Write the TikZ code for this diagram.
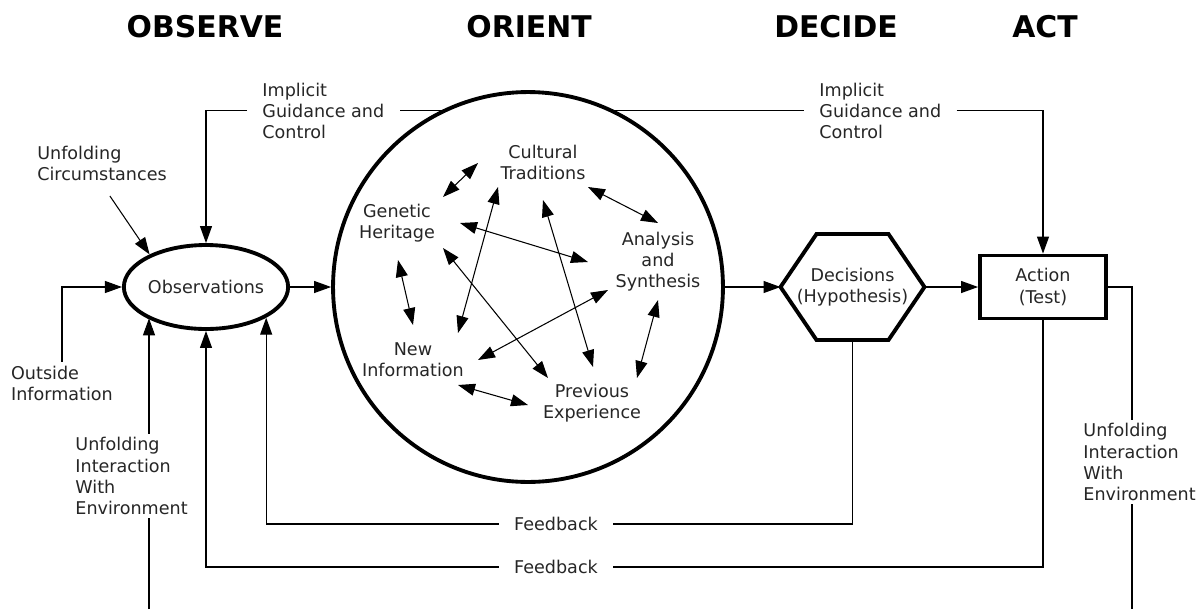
\documentclass[tikz,border=0pt]{standalone}
\usepackage{fontspec}
\setmainfont{DejaVu Sans}
\usetikzlibrary{arrows.meta,shapes.geometric}

\begin{document}
\begin{tikzpicture}[x=0.02cm, y=-0.02cm, line width=0.6pt,
		>={Triangle[length=0.34cm,width=0.24cm]},
		thick line/.style={line width=2.2pt},
		phase/.style={font=\fontsize{17}{20}\selectfont\bfseries},
		main/.style={thick line, align=center, inner sep=0pt, text=black!85, font=\fontsize{10}{12}\selectfont},
		idea/.style={align=center, inner sep=0pt, text=black!85, font=\fontsize{10}{12}\selectfont},
		lbl/.style={align=left, inner xsep=8.5pt, inner ysep=2pt, text=black!85, font=\fontsize{10}{12}\selectfont}]
		\useasboundingbox (0,0) rectangle (1204,609);

		\node[phase] (obsT) at (205,27) {OBSERVE};
		\node[phase] (oriT) at (529,27) {ORIENT};
		\node[phase] (decT) at (836,27) {DECIDE};
		\node[phase] (actT) at (1045,27) {ACT};

		\node[main, draw, ellipse, minimum width=3.16cm, minimum height=1.68cm] (obs) at (206,287) {Observations};
		\node[main, draw, circle, minimum size=7.8cm] (orient) at (528,287) {};
		\node[main, outer sep=0pt, minimum width=2.88cm, minimum height=2.12cm] (dec) at (852.5,287) {Decisions\\(Hypothesis)};
		\draw[thick line, line join=miter] (dec.west) -- ([shift={(36,0)}]dec.north west) -- ([shift={(-36,0)}]dec.north east) -- (dec.east) -- ([shift={(-36,0)}]dec.south east) -- ([shift={(36,0)}]dec.south west) -- cycle;
		\node[main, draw, minimum width=2.52cm, minimum height=1.26cm] (act) at (1043,287) {Action\\(Test)};

		\node[idea] (cult) at (543,162) {Cultural\\Traditions};
		\node[idea] (gen) at (397,223) {Genetic\\Heritage};
		\node[idea] (synth) at (658,262) {Analysis\\and\\Synthesis};
		\node[idea] (new) at (413,360) {New\\Information};
		\node[idea] (prev) at (592,403) {Previous\\Experience};

		\draw[<->] ([shift={(46,-26)}]gen.center) -- ([shift={(-65,1)}]cult.center);
		\draw[<->] ([shift={(45,25)}]cult.center) -- ([shift={(0,-39)}]synth.center);
		\draw[<->] ([shift={(63,0)}]gen.center) -- ([shift={(-70,0)}]synth.center);
		\draw[<->] ([shift={(-45,25)}]cult.center) -- ([shift={(45,-27)}]new.center);
		\draw[<->] ([shift={(0,38)}]cult.center) -- ([shift={(1,-36)}]prev.center);
		\draw[<->] ([shift={(1,37)}]gen.center) -- ([shift={(0,-35)}]new.center);
		\draw[<->] ([shift={(46,25)}]gen.center) -- ([shift={(-44,-25)}]prev.center);
		\draw[<->] ([shift={(-50,28)}]synth.center) -- ([shift={(65,0)}]new.center);
		\draw[<->] ([shift={(0,38)}]synth.center) -- ([shift={(45,-25)}]prev.center);
		\draw[<->] ([shift={(45,25)}]new.center) -- ([shift={(-64,2)}]prev.center);

		\draw[->] (obs.east) -- (orient.west);
		\draw[->] (orient.east) -- (dec.west);
		\draw[->] (dec.east) -- (act.west);

		\node[lbl, anchor=west] (implL) at (247,111) {Implicit\\Guidance and\\Control};
		\draw (orient.116) -- (orient.116 -| implL.east);
		\draw[->] (implL.west |- orient.116) -| (obs.north);
		\node[lbl, anchor=west] (implR) at (804,111) {Implicit\\Guidance and\\Control};
		\draw (orient.64) -- (orient.64 -| implR.west);
		\draw[->] (implR.east |- orient.64) -| (act.north);

		\node[lbl] (circ) at (102,163) {Unfolding\\Circumstances};
		\draw[->, shorten <=8pt] (circ.south) -- (obs.150);
		\node[lbl] (outside) at (62,383) {Outside\\Information};
		\draw[->] (outside.north) |- (obs.west);

		\node[lbl, anchor=west] (envL) at (60,476) {Unfolding\\Interaction\\With\\Environment};
		\coordinate (cL) at (149,609);
		\draw (cL) -- (cL |- envL.south);
		\draw[->] (cL |- envL.north) -- (cL |- obs.208);
		\node[lbl, anchor=west] (envR) at (1068,462) {Unfolding\\Interaction\\With\\Environment};
		\coordinate (cR) at (1132,609);
		\draw (act.east) -| (cR |- envR.north);
		\draw (cR |- envR.south) -- (cR);

		\node[lbl] (fb1) at (556,524) {Feedback};
		\node[lbl] (fb2) at (556,567) {Feedback};
		\draw (dec.south) |- (fb1.east);
		\draw[->] (fb1.west) -| (obs.333);
		\draw (act.south) |- (fb2.east);
		\draw[->] (fb2.west) -| (obs.south);
	\end{tikzpicture}
\end{document}
